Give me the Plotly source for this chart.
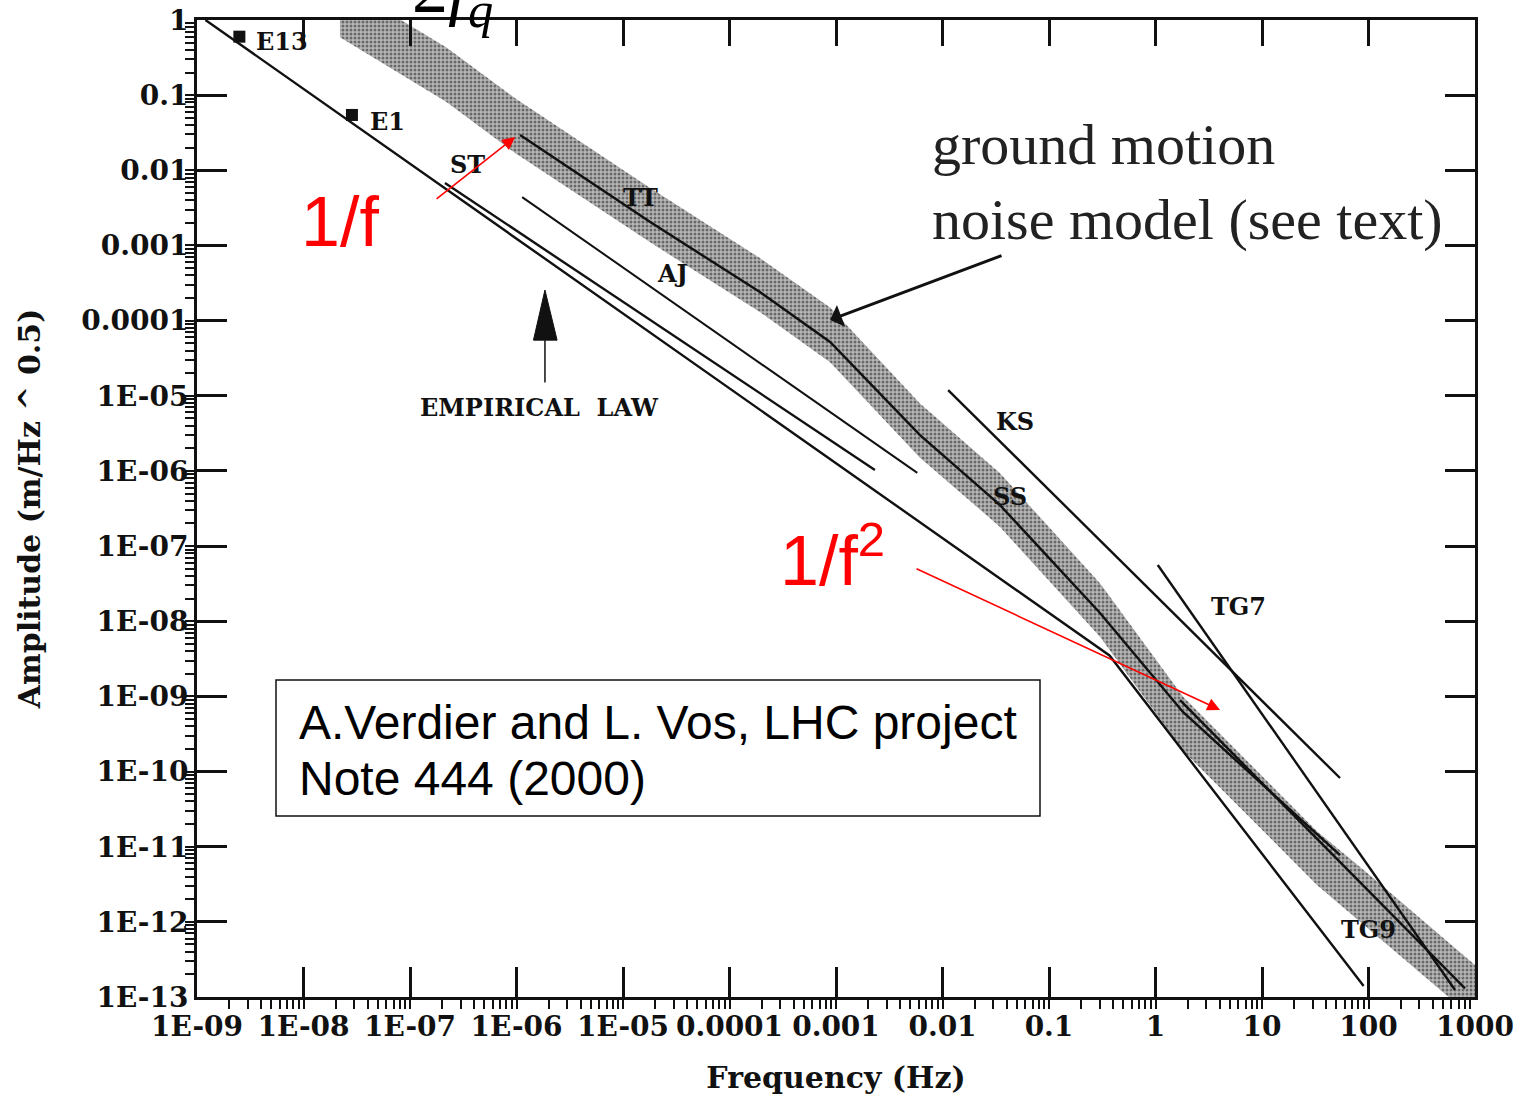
import numpy as np
import plotly.graph_objects as go

# ---------------- axis ticks ----------------
x_tickvals = [1e-9, 1e-8, 1e-7, 1e-6, 1e-5, 1e-4, 1e-3, 1e-2, 1e-1, 1, 10, 100, 1000]
x_ticktext = ["1E-09", "1E-08", "1E-07", "1E-06", "1E-05", "0.0001", "0.001",
              "0.01", "0.1", "1", "10", "100", "1000"]
y_tickvals = [1, 1e-1, 1e-2, 1e-3, 1e-4, 1e-5, 1e-6, 1e-7, 1e-8, 1e-9,
              1e-10, 1e-11, 1e-12, 1e-13]
y_ticktext = ["1", "0.1", "0.01", "0.001", "0.0001", "1E-05", "1E-06", "1E-07",
              "1E-08", "1E-09", "1E-10", "1E-11", "1E-12", "1E-13"]

e_line_f = [1.2e-9, 0.37, 90]
e_line_a = [1.0, 3.5e-9, 1.4e-13]

e_points_f = [2.5e-9, 2.85e-8]
e_points_a = [0.6, 0.0545]

st_f = [2.13e-7, 2.32e-3]
st_a = [6.78e-3, 1.03e-6]

aj_f = [1.13e-6, 5.8e-3]
aj_a = [4.4e-3, 9.4e-7]

tt_f = [1.08e-6, 1.8e-5, 1.93e-4, 8.8e-4, 6.15e-3, 0.0347, 0.30, 1.81, 54]
tt_a = [0.0295, 2.05e-3, 2.4e-4, 5.2e-5, 3.0e-6, 3.5e-7, 1.3e-8, 6.2e-10, 7.7e-12]

ks_f = [0.0113, 54]
ks_a = [1.19e-5, 8.2e-11]

tg7_f = [1.05, 650]
tg7_a = [5.6e-8, 1.24e-13]

tg9_f = [1.7, 805]
tg9_a = [8.9e-10, 1.3e-13]

# ground motion noise model band
band_f = [2.2e-8, 2.2e-7, 9.7e-7, 1.8e-5, 1.93e-4, 8.8e-4, 6.15e-3, 0.0347,
          0.301, 1.81, 32.8, 96.8, 649, 1384]
band_upper = [3.1, 0.43, 0.091, 5.8e-3, 6.8e-4, 1.5e-4, 7.9e-6, 9.3e-7,
              3.2e-8, 1.0e-9, 1.6e-11, 4.5e-12, 4.5e-13, 1.8e-13]
band_lower = [0.59, 0.081, 0.017, 1.1e-3, 1.3e-4, 2.8e-5, 1.5e-6, 1.8e-7,
              6.2e-9, 1.9e-10, 3.1e-12, 8.5e-13, 8.5e-14, 3.4e-14]

# empirical-law pointer
emp_f = 1.85e-6
emp_tip = 2.55e-4
emp_base = 5.5e-5
emp_tail = 1.5e-5

# curve labels: (text, freq, amplitude, anchor)
curve_labels = [
    ("E13", 3.4e-9, 0.51, "left"),
    ("E1", 4.0e-8, 0.044, "left"),
    ("ST", 3.5e-7, 0.0118, "center"),
    ("TT", 1.45e-5, 4.4e-3, "center"),
    ("AJ", 2.9e-5, 4.3e-4, "center"),
    ("KS", 0.048, 4.6e-6, "center"),
    ("SS", 0.043, 4.5e-7, "center"),
    ("TG7", 6.0, 1.55e-8, "center"),
    ("TG9", 99, 7.8e-13, "center"),
    ("EMPIRICAL  LAW", 1.63e-6, 6.9e-6, "center"),
]

# red slope annotations (arrow tail -> tip)
slope1_tail = (1.72e-7, 4.03e-3)
slope1_tip = (9.7e-7, 0.0277)
slope2_tail = (5.52e-3, 5.1e-8)
slope2_tip = (4.04, 6.6e-10)

# ground motion text arrow
gm_tail = (0.037, 7.46e-4)
gm_tip = (8.8e-4, 1.02e-4)

BLACK = "#111111"
LW = 2.4

fig = go.Figure()

# band
fig.add_trace(go.Scatter(
    x=band_f + band_f[::-1], y=band_upper + band_lower[::-1],
    mode="lines", fill="toself", line=dict(width=0, color="#999"),
    fillcolor="#b4b4b4",
    fillpattern=dict(shape=".", fgcolor="#1a1a1a", bgcolor="#b8b8b8", size=4, solidity=0.45),
    hoverinfo="skip", showlegend=False))

def add_line(xs, ys, w=LW):
    fig.add_trace(go.Scatter(x=xs, y=ys, mode="lines",
                             line=dict(color=BLACK, width=w),
                             hoverinfo="skip", showlegend=False))

add_line(e_line_f, e_line_a)
add_line(st_f, st_a)
add_line(aj_f, aj_a, 2.0)
add_line(tt_f, tt_a)
add_line(ks_f, ks_a)
add_line(tg7_f, tg7_a)
add_line(tg9_f, tg9_a)

fig.add_trace(go.Scatter(x=e_points_f, y=e_points_a, mode="markers",
                         marker=dict(symbol="square", size=12, color=BLACK),
                         hoverinfo="skip", showlegend=False))

# empirical law pointer (triangle + stem)
fig.add_trace(go.Scatter(x=[emp_f * 0.78, emp_f, emp_f * 1.3, emp_f * 0.78],
                         y=[emp_base, emp_tip, emp_base, emp_base],
                         mode="lines", fill="toself", fillcolor=BLACK,
                         line=dict(color=BLACK, width=1), hoverinfo="skip",
                         showlegend=False))
add_line([emp_f, emp_f], [emp_base, emp_tail], 1.5)

# invisible trace for the top/right frame axes
fig.add_trace(go.Scatter(x=[1e-9, 1e3], y=[1e-13, 1], xaxis="x2", yaxis="y2",
                         mode="markers", marker=dict(opacity=0), hoverinfo="skip",
                         showlegend=False))

lab_font = dict(family="DejaVu Serif", size=24, color=BLACK, weight="bold")
for txt, f, a, anc in curve_labels:
    fig.add_annotation(x=np.log10(f), y=np.log10(a), xref="x", yref="y", text=txt,
                       showarrow=False, xanchor=anc, yanchor="middle", font=lab_font)

# red arrows
for tail, tip in [(slope1_tail, slope1_tip), (slope2_tail, slope2_tip)]:
    fig.add_annotation(x=np.log10(tip[0]), y=np.log10(tip[1]), xref="x", yref="y",
                       ax=np.log10(tail[0]), ay=np.log10(tail[1]), axref="x", ayref="y",
                       text="", showarrow=True, arrowhead=2, arrowsize=1.6,
                       arrowwidth=1.6, arrowcolor="#ff0000")

# black arrow
fig.add_annotation(x=np.log10(gm_tip[0]), y=np.log10(gm_tip[1]), xref="x", yref="y",
                   ax=np.log10(gm_tail[0]), ay=np.log10(gm_tail[1]), axref="x", ayref="y",
                   text="", showarrow=True, arrowhead=1, arrowsize=1.3,
                   arrowwidth=3, arrowcolor=BLACK)

# texts in paper coords
def px2paper(px, py):
    return (px - 197) / 1278.0, 1 - (py - 20) / 977.0

red_font = dict(family="Liberation Sans", size=70, color="#ff0000")
x, y = px2paper(340, 222)
fig.add_annotation(x=x, y=y, xref="paper", yref="paper", text="1/f", showarrow=False,
                   xanchor="center", yanchor="middle", font=red_font)
x, y = px2paper(832, 556)
fig.add_annotation(x=x, y=y, xref="paper", yref="paper", text="1/f<sup>2</sup>",
                   showarrow=False, xanchor="center", yanchor="middle", font=red_font)

x, y = px2paper(930, 182)
fig.add_annotation(x=x, y=y, xref="paper", yref="paper",
                   text="ground motion<br>noise model (see text)", showarrow=False,
                   xanchor="left", yanchor="middle", align="left",
                   font=dict(family="Liberation Serif", size=58, color="#222"))

# reference box
x0, y0 = px2paper(276, 680)
x1, y1 = px2paper(1040, 816)
fig.add_shape(type="rect", xref="paper", yref="paper", x0=x0, y0=y1, x1=x1, y1=y0,
              line=dict(color=BLACK, width=1.5), fillcolor="white", layer="above")
box_font = dict(family="Liberation Sans", size=48, color="black")
for line_txt, py in [("A.Verdier and L. Vos, LHC project", 722), ("Note 444 (2000)", 778)]:
    x, y = px2paper(297, py)
    fig.add_annotation(x=x, y=y, xref="paper", yref="paper", text=line_txt,
                       showarrow=False, xanchor="left", yanchor="middle", align="left",
                       font=box_font)

# formula fragment at top
x, y = px2paper(452, 40)
fig.add_annotation(x=x, y=y, xref="paper", yref="paper",
                   text="2<i>f</i><sub><i>q</i></sub>", showarrow=False,
                   xanchor="center", yanchor="bottom",
                   font=dict(family="Liberation Serif", size=72, color="black"))

tick_font = dict(family="DejaVu Serif", size=28, color=BLACK, weight="bold")
title_font = dict(family="DejaVu Serif", size=30, color=BLACK, weight="bold")
axis_common = dict(
    type="log", showgrid=False, zeroline=False, showline=True, linewidth=3,
    linecolor=BLACK, ticks="inside", ticklen=30, tickwidth=3, automargin=False,
    tickcolor=BLACK, tickfont=tick_font, tickangle=0,
    minor=dict(ticks="outside", ticklen=9, tickwidth=1.5, tickcolor=BLACK,
               tickmode="linear", dtick="D1", showgrid=False),
)

fig.update_layout(
    xaxis=dict(range=[-9, 3], tickmode="array", tickvals=x_tickvals,
               ticktext=x_ticktext, ticklabelstandoff=2,
               title=dict(text="Frequency (Hz)", standoff=26, font=title_font),
               **axis_common),
    yaxis=dict(range=[-13, 0], tickmode="array", tickvals=y_tickvals,
               ticktext=y_ticktext, ticklabelstandoff=0,
               title=dict(text="Amplitude (m/Hz ^ 0.5)", standoff=32, font=title_font),
               **axis_common),
    xaxis2=dict(type="log", range=[-9, 3], overlaying="x", side="top",
                showgrid=False, zeroline=False, showline=True, linewidth=3,
                linecolor=BLACK, ticks="inside", ticklen=26, tickwidth=3,
                tickcolor=BLACK, tickmode="array", tickvals=x_tickvals,
                showticklabels=False, automargin=False),
    yaxis2=dict(type="log", range=[-13, 0], overlaying="y", side="right",
                showgrid=False, zeroline=False, showline=True, linewidth=3,
                linecolor=BLACK, ticks="inside", ticklen=30, tickwidth=3,
                tickcolor=BLACK, tickmode="array", tickvals=y_tickvals,
                showticklabels=False, automargin=False),
    width=1517, height=1095, margin=dict(l=197, r=42, t=20, b=98),
    paper_bgcolor="white", plot_bgcolor="white", showlegend=False)

fig.write_html("out.html")
